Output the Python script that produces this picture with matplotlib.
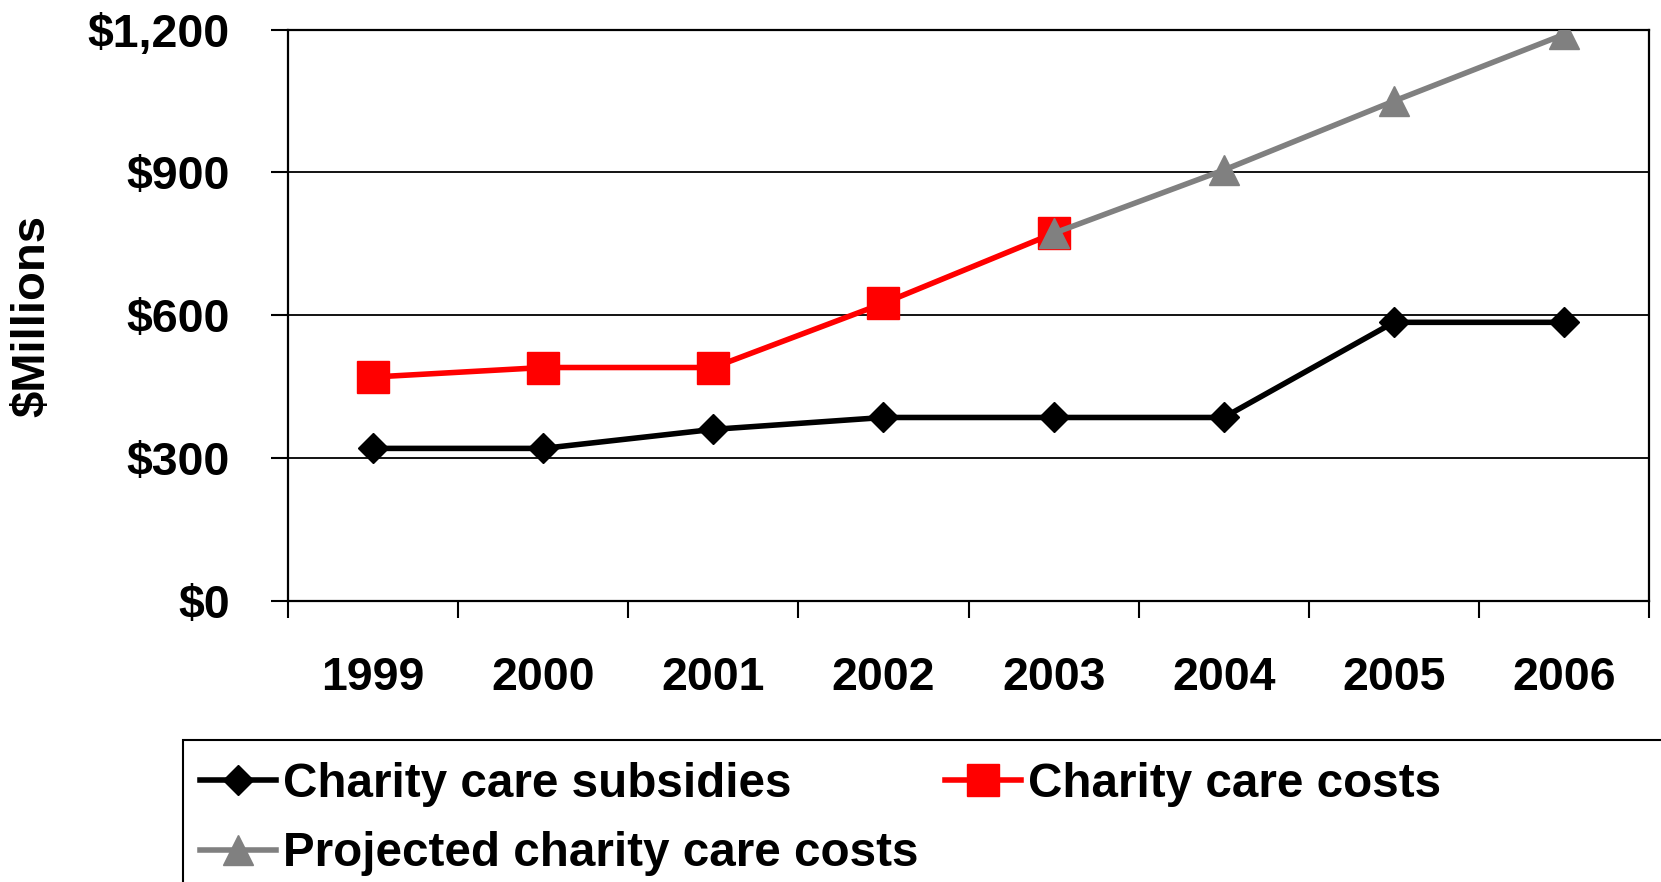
import matplotlib
matplotlib.use("Agg")
import matplotlib.pyplot as plt
from matplotlib.patches import Rectangle
from matplotlib.ticker import FixedLocator, NullFormatter

plt.rcParams["font.family"] = ["Liberation Sans", "DejaVu Sans"]
plt.rcParams["font.weight"] = "bold"

years = ["1999", "2000", "2001", "2002", "2003", "2004", "2005", "2006"]
subsidies = [320, 320, 360, 385, 385, 385, 585, 585]
costs_years = ["1999", "2000", "2001", "2002", "2003"]
costs = [470, 490, 490, 625, 772]
projected_years = ["2003", "2004", "2005", "2006"]
projected = [772, 905, 1050, 1190]
y_ticks = [0, 300, 600, 900, 1200]
y_tick_labels = ["$0", "$300", "$600", "$900", "$1,200"]


def main():
    fig = plt.figure(figsize=(16.61, 8.82), dpi=100)
    ax = fig.add_axes([0.1734, 0.3190, 0.8194, 0.6473])

    pos = {y: i for i, y in enumerate(years)}
    xs = [pos[y] for y in years]
    xs_costs = [pos[y] for y in costs_years]
    xs_proj = [pos[y] for y in projected_years]

    line_sub, = ax.plot(xs, subsidies, color="black", lw=4, marker="D",
                        ms=15.5, zorder=3, label="Charity care subsidies")
    line_cost, = ax.plot(xs_costs, costs, color="#FF0000", lw=4, marker="s",
                         ms=23, zorder=4, label="Charity care costs")
    line_proj, = ax.plot(xs_proj, projected, color="#808080", lw=4, marker="^",
                         ms=22, zorder=5, label="Projected charity care costs")

    ax.set_xlim(-0.5, len(years) - 0.5)
    ax.set_ylim(0, 1200)

    # category boundaries carry the tick marks, labels sit at the centres
    ax.xaxis.set_major_locator(FixedLocator([i - 0.5 for i in range(len(years) + 1)]))
    ax.xaxis.set_major_formatter(NullFormatter())
    ax.xaxis.set_minor_locator(FixedLocator(xs))
    ax.set_xticklabels(years, minor=True)
    ax.tick_params(axis="x", which="major", direction="out", length=12, width=1.5)
    ax.tick_params(axis="x", which="minor", length=0, pad=40, labelsize=33.5)

    ax.set_yticks(y_ticks)
    ax.set_yticklabels(y_tick_labels)
    ax.tick_params(axis="y", direction="out", length=12, width=1.5, pad=30,
                   labelsize=33.5)

    ax.yaxis.grid(True, color="black", lw=1.3)
    ax.set_axisbelow(True)
    for side in ["left", "bottom", "right", "top"]:
        ax.spines[side].set_color("black")
        ax.spines[side].set_linewidth(1.6)

    fig.text(32 / 1661, 1 - 316 / 882, "$Millions", rotation=90, fontsize=34,
             fontweight="bold", ha="center", va="center")

    fig.legend(handles=[line_sub, line_proj, line_cost], loc="upper left",
               bbox_to_anchor=(200 / 1661, 1 - 762 / 882), ncol=2, frameon=False,
               fontsize=34.3, borderpad=0, handlelength=1.6, handletextpad=0.15,
               columnspacing=0.55, labelspacing=0.51, numpoints=1,
               borderaxespad=0)

    # legend box runs off the edge of the figure
    fig.patches.append(Rectangle((183 / 1661, -0.05), 0.95, 1 - 739.5 / 882 + 0.05,
                                 transform=fig.transFigure, fill=False,
                                 edgecolor="black", lw=1.5, clip_on=False))

    fig.savefig("out.png", dpi=100)


if __name__ == "__main__":
    main()
